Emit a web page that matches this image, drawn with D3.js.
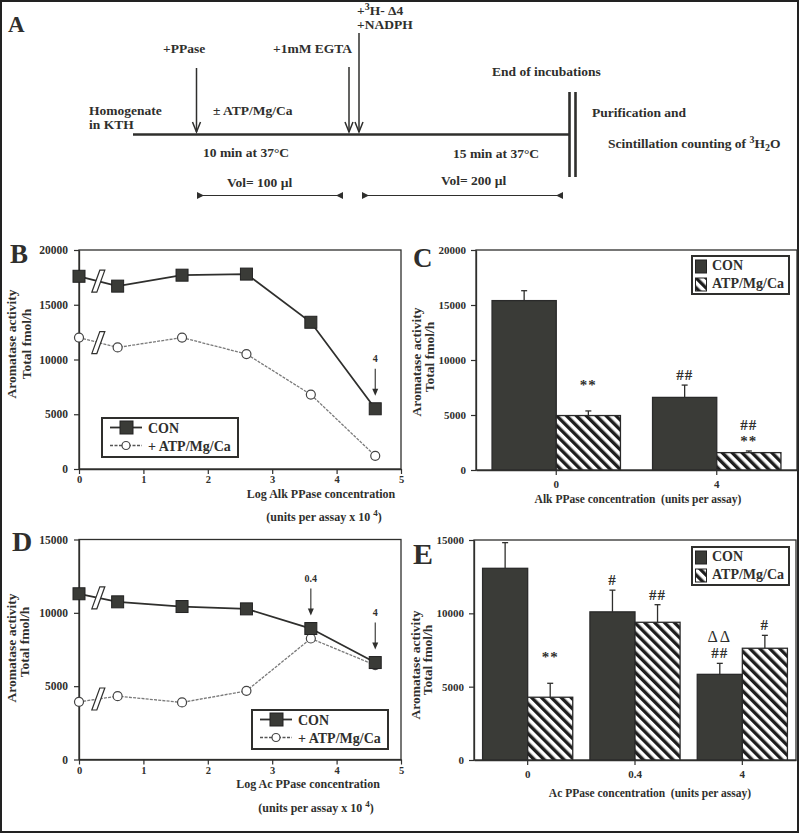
<!DOCTYPE html>
<html><head><meta charset="utf-8">
<script src="https://cdn.jsdelivr.net/npm/d3@7"></script>
<style>
body{margin:0;background:#fff;}
svg{display:block;}
</style></head><body>
<svg id="fig" width="800" height="833"></svg>
<script>
// ---------------- data ----------------
const xLog = [0, 0.6, 1.6, 2.6, 3.6, 4.6];
const xTicks = [0, 1, 2, 3, 4, 5];
const breakAt = 0.3;

const bCON = [17600, 16700, 17700, 17800, 13400, 5500];
const bATP = [12000, 11100, 12000, 10500, 6800, 1200];
const bYTicks = [0, 5000, 10000, 15000, 20000];
const bArrows = [{x: 4.6, label: "4"}];

const dCON = [11300, 10750, 10430, 10270, 8930, 6610];
const dATP = [3930, 4320, 3890, 4680, 8250, 6430];
const dYTicks = [0, 5000, 10000, 15000];
const dArrows = [{x: 3.6, label: "0.4"}, {x: 4.6, label: "4"}];

const cCats = ["0", "4"];
const cCON = [15400, 6600];
const cCONerr = [900, 1120];
const cATP = [4950, 1580];
const cATPerr = [420, 150];
const cYTicks = [0, 5000, 10000, 15000, 20000];
const cNotes = [
  {cat: "0", s: "ATP", lines: ["**", ""]},
  {cat: "4", s: "CON", lines: ["##"]},
  {cat: "4", s: "ATP", lines: ["##", "**"]}
];

const eCats = ["0", "0.4", "4"];
const eCON = [13070, 10100, 5840];
const eCONerr = [1750, 1480, 750];
const eATP = [4280, 9390, 7620];
const eATPerr = [950, 1200, 880];
const eYTicks = [0, 5000, 10000, 15000];
const eNotes = [
  {cat: "0", s: "ATP", lines: ["**", ""]},
  {cat: "0.4", s: "CON", lines: ["#"]},
  {cat: "0.4", s: "ATP", lines: ["##"]},
  {cat: "4", s: "CON", lines: ["ΔΔ", "##"]},
  {cat: "4", s: "ATP", lines: ["#"]}
];

// ---------------- drawing ----------------
const svg = d3.select("#fig");
const INK = "#2f2f2d";
const BAR = "#3a3b37";
const F = '"Liberation Serif","Times New Roman",serif';

const defs = svg.append("defs");
const pat = defs.append("pattern").attr("id", "hatch").attr("patternUnits", "userSpaceOnUse")
  .attr("width", 7).attr("height", 7).attr("patternTransform", "rotate(-45)");
pat.append("rect").attr("width", 7).attr("height", 7).attr("fill", "#fff");
pat.append("rect").attr("width", 3.4).attr("height", 7).attr("fill", "#1e1e1e");

svg.append("rect").attr("width", 800).attr("height", 833).attr("fill", "#fff");
svg.append("rect").attr("x", 1).attr("y", 1).attr("width", 797).attr("height", 831)
  .attr("fill", "none").attr("stroke", "#222").attr("stroke-width", 2);

function T(g, x, y, s, size, anchor) {
  return g.append("text").attr("x", x).attr("y", y).text(s)
    .attr("font-family", F).attr("font-weight", "bold").attr("font-size", size)
    .attr("fill", INK).attr("text-anchor", anchor || "start");
}

// ---------- Panel A ----------
const A = svg.append("g");
T(A, 8, 32, "A", 23);
A.append("line").attr("x1", 133).attr("x2", 569).attr("y1", 134.5).attr("y2", 134.5)
  .attr("stroke", INK).attr("stroke-width", 2.5);
[569.5, 575.5].forEach(x => A.append("line").attr("x1", x).attr("x2", x).attr("y1", 92).attr("y2", 177)
  .attr("stroke", INK).attr("stroke-width", 2.6));
function downArrow(x, y1, y2) {
  A.append("line").attr("x1", x).attr("x2", x).attr("y1", y1).attr("y2", y2 - 1)
    .attr("stroke", INK).attr("stroke-width", 1.5);
  A.append("path").attr("d", `M${x - 4},${y2 - 11} L${x},${y2 - 1} L${x + 4},${y2 - 11}`)
    .attr("fill", "none").attr("stroke", INK).attr("stroke-width", 1.5);
}
downArrow(196.5, 68, 133);
downArrow(349, 67, 133);
downArrow(359, 33, 133);
function span(x1, x2, y) {
  A.append("line").attr("x1", x1).attr("x2", x2).attr("y1", y).attr("y2", y).attr("stroke", INK).attr("stroke-width", 1.2);
  A.append("path").attr("d", `M${x1},${y - 3.5} L${x1},${y + 3.5} L${x1 + 7},${y} Z`).attr("fill", INK);
  A.append("path").attr("d", `M${x2},${y - 3.5} L${x2},${y + 3.5} L${x2 - 7},${y} Z`).attr("fill", INK);
}
span(197, 343, 195.5);
span(362, 563, 195.5);
const AS = 13.5;
T(A, 163, 53, "+PPase", AS);
T(A, 273, 53, "+1mM EGTA", AS);
{
  const t = T(A, 357, 15, "", AS);
  t.append("tspan").text("+");
  t.append("tspan").text("3").attr("font-size", 10).attr("dy", -5);
  t.append("tspan").text("H- Δ4").attr("dy", 5);
}
T(A, 357, 29, "+NADPH", AS);
T(A, 89, 115, "Homogenate", AS);
T(A, 89, 129, "in KTH", AS);
T(A, 213, 115, "± ATP/Mg/Ca", AS);
T(A, 203, 157, "10 min at 37°C", AS);
T(A, 227, 187, "Vol= 100 µl", AS);
T(A, 492, 76, "End of incubations", AS);
T(A, 592, 117, "Purification and", AS);
{
  const t = T(A, 608, 148, "", AS);
  t.append("tspan").text("Scintillation counting of ");
  t.append("tspan").text("3").attr("font-size", 10).attr("dy", -5);
  t.append("tspan").text("H").attr("dy", 5);
  t.append("tspan").text("2").attr("font-size", 10).attr("dy", 3);
  t.append("tspan").text("O").attr("dy", -3);
}
T(A, 453, 158, "15 min at 37°C", AS);
T(A, 441, 185, "Vol= 200 µl", AS);

// ---------- helpers ----------
function styleAxis(a, size) {
  a.select("path.domain").attr("stroke", INK).attr("stroke-width", 1.3);
  a.selectAll(".tick line").attr("stroke", INK).attr("stroke-width", 1.2);
  a.selectAll(".tick text").attr("font-family", F).attr("font-weight", "bold")
    .attr("font-size", size || 11).attr("fill", INK);
}
function yTitle(g, x1, y1, x2, y2) {
  T(g, 0, 0, "Aromatase activity", 13.5, "middle").attr("transform", `translate(${x1},${y1}) rotate(-90)`);
  T(g, 0, 0, "Total fmol/h", 13.5, "middle").attr("transform", `translate(${x2},${y2}) rotate(-90)`);
}
function supTitle(g, x, y, main, size) {
  const t = T(g, x, y, "", size, "middle");
  t.append("tspan").text(main);
  t.append("tspan").text("4").attr("font-size", 9).attr("dy", -5);
  t.append("tspan").text(")").attr("dy", 5);
}

// ---------- line panels ----------
function lineChart(o) {
  const g = svg.append("g");
  const x = d3.scaleLinear().domain([0, 5]).range([79, 401]);
  const y = d3.scaleLinear().domain([0, o.ymax]).range([o.bottom, o.top]);
  g.append("rect").attr("x", x(0)).attr("y", y(o.ymax)).attr("width", x(5) - x(0))
    .attr("height", y(0) - y(o.ymax)).attr("fill", "none").attr("stroke", INK).attr("stroke-width", 1.3);
  const ya = g.append("g").attr("transform", `translate(${x(0)},0)`)
    .call(d3.axisLeft(y).tickValues(o.yticks).tickSize(5).tickPadding(6).tickSizeOuter(0).tickFormat(d3.format("d")));
  const xa = g.append("g").attr("transform", `translate(0,${y(0)})`)
    .call(d3.axisBottom(x).tickValues(xTicks).tickSize(5).tickPadding(2).tickSizeOuter(0).tickFormat(d3.format("d")));
  styleAxis(ya, 11.5); styleAxis(xa, 10.5);

  const pts = vals => xLog.map((v, i) => [x(v), y(vals[i])]);
  const line = d3.line();
  g.append("path").attr("d", line(pts(o.atp))).attr("fill", "none")
    .attr("stroke", "#7a7a7a").attr("stroke-width", 1.3).attr("stroke-dasharray", "3,1.2");
  g.append("path").attr("d", line(pts(o.con))).attr("fill", "none")
    .attr("stroke", INK).attr("stroke-width", 1.8);
  // axis breaks
  [o.atp, o.con].forEach(vals => {
    const t = (breakAt - xLog[0]) / (xLog[1] - xLog[0]);
    const by = y(vals[0]) + (y(vals[1]) - y(vals[0])) * t;
    const bx = x(breakAt);
    g.append("path").attr("d", `M${bx - 6.5},${by + 11} L${bx - 1.5},${by + 11} L${bx + 6.5},${by - 11} L${bx + 1.5},${by - 11} Z`)
      .attr("fill", "#fff").attr("stroke", INK).attr("stroke-width", 1.2);
  });
  g.selectAll("circle.atp").data(o.atp).join("circle").attr("class", "atp")
    .attr("cx", (d, i) => x(xLog[i])).attr("cy", d => y(d)).attr("r", 4.5)
    .attr("fill", "#fff").attr("stroke", "#444").attr("stroke-width", 1.2);
  g.selectAll("rect.con").data(o.con).join("rect").attr("class", "con")
    .attr("x", (d, i) => x(xLog[i]) - 6).attr("y", d => y(d) - 6).attr("width", 12).attr("height", 12)
    .attr("fill", BAR).attr("stroke", "#222").attr("stroke-width", 1);
  // arrows
  o.arrows.forEach(a => {
    const i = xLog.indexOf(a.x);
    const ax = x(a.x), tip = y(o.con[i]) - 13, top = tip - 27;
    g.append("line").attr("x1", ax).attr("x2", ax).attr("y1", top).attr("y2", tip - 5)
      .attr("stroke", INK).attr("stroke-width", 1.1);
    g.append("path").attr("d", `M${ax - 3},${tip - 7} L${ax + 3},${tip - 7} L${ax},${tip} Z`).attr("fill", INK);
    T(g, ax, top - 7, a.label, 10, "middle");
  });
  // legend
  const L = o.legend;
  g.append("rect").attr("x", L.x).attr("y", L.y).attr("width", 136).attr("height", 39)
    .attr("fill", "#fff").attr("stroke", INK).attr("stroke-width", 2);
  const r1 = L.y + 9.5, r2 = L.y + 27.5;
  g.append("line").attr("x1", L.x + 8).attr("x2", L.x + 40).attr("y1", r1).attr("y2", r1).attr("stroke", INK).attr("stroke-width", 1.8);
  g.append("rect").attr("x", L.x + 18).attr("y", r1 - 6.5).attr("width", 13).attr("height", 13).attr("fill", BAR).attr("stroke", "#222");
  g.append("line").attr("x1", L.x + 8).attr("x2", L.x + 40).attr("y1", r2).attr("y2", r2).attr("stroke", "#555").attr("stroke-width", 1.3).attr("stroke-dasharray", "3,1.5");
  g.append("circle").attr("cx", L.x + 24).attr("cy", r2).attr("r", 4).attr("fill", "#fff").attr("stroke", "#444").attr("stroke-width", 1.2);
  T(g, L.x + 46, r1 + 5, "CON", 14);
  T(g, L.x + 46, r2 + 5, "+ ATP/Mg/Ca", 14);
  return g;
}

const gB = lineChart({top: 250, bottom: 469, ymax: 20000, yticks: bYTicks, con: bCON, atp: bATP, arrows: bArrows, legend: {x: 102, y: 418}});
T(gB, 10, 263, "B", 27);
yTitle(gB, 16, 344, 30.5, 344);
T(gB, 321, 498, "Log Alk PPase concentration", 12, "middle");
supTitle(gB, 324, 521, "(units per assay x 10 ", 12);

const gD = lineChart({top: 539.5, bottom: 759.5, ymax: 15000, yticks: dYTicks, con: dCON, atp: dATP, arrows: dArrows, legend: {x: 252, y: 710}});
T(gD, 12, 551, "D", 28);
yTitle(gD, 16, 648, 28.5, 642);
T(gD, 308, 788, "Log Ac PPase concentration", 12, "middle");
supTitle(gD, 316, 812, "(units per assay x 10 ", 12);

// ---------- bar panels ----------
function barChart(o) {
  const g = svg.append("g");
  const x = d3.scaleBand().domain(o.cats).range([o.left, o.right]).paddingInner(o.pi).paddingOuter(o.po);
  const series = [
    {key: "CON", vals: o.con, err: o.conErr, fill: BAR},
    {key: "ATP", vals: o.atp, err: o.atpErr, fill: "url(#hatch)"}
  ];
  const xs = d3.scaleBand().domain(series.map(s => s.key)).range([0, x.bandwidth()]);
  const y = d3.scaleLinear().domain([0, o.ymax]).range([o.bottom, o.top]);
  g.append("rect").attr("x", o.left).attr("y", o.top).attr("width", o.right - o.left)
    .attr("height", o.bottom - o.top).attr("fill", "none").attr("stroke", INK).attr("stroke-width", 1.3);
  series.forEach(s => {
    const gs = g.append("g");
    gs.selectAll("line.err").data(o.cats).join("line").attr("class", "err")
      .attr("x1", (c) => x(c) + xs(s.key) + xs.bandwidth() / 2).attr("x2", (c) => x(c) + xs(s.key) + xs.bandwidth() / 2)
      .attr("y1", (c, i) => y(s.vals[i])).attr("y2", (c, i) => y(s.vals[i] + s.err[i]))
      .attr("stroke", INK).attr("stroke-width", 1.3);
    gs.selectAll("line.cap").data(o.cats).join("line").attr("class", "cap")
      .attr("x1", (c) => x(c) + xs(s.key) + xs.bandwidth() / 2 - 3).attr("x2", (c) => x(c) + xs(s.key) + xs.bandwidth() / 2 + 3)
      .attr("y1", (c, i) => y(s.vals[i] + s.err[i])).attr("y2", (c, i) => y(s.vals[i] + s.err[i]))
      .attr("stroke", INK).attr("stroke-width", 1.3);
    gs.selectAll("rect").data(o.cats).join("rect")
      .attr("x", c => x(c) + xs(s.key)).attr("width", xs.bandwidth())
      .attr("y", (c, i) => y(s.vals[i])).attr("height", (c, i) => y(0) - y(s.vals[i]))
      .attr("fill", s.fill).attr("stroke", "#2a2a2a").attr("stroke-width", 1.3);
  });
  const ya = g.append("g").attr("transform", `translate(${o.left},0)`)
    .call(d3.axisLeft(y).tickValues(o.yticks).tickSize(5).tickPadding(5).tickSizeOuter(0).tickFormat(d3.format("d")));
  const xa = g.append("g").attr("transform", `translate(0,${o.bottom})`)
    .call(d3.axisBottom(x).tickSize(5).tickPadding(5).tickSizeOuter(0));
  styleAxis(ya, 11); styleAxis(xa, 11);
  // notes
  o.notes.forEach(n => {
    const si = series.findIndex(s => s.key === n.s);
    const s = series[si];
    const ci = o.cats.indexOf(n.cat);
    const cx = x(n.cat) + xs(s.key) + xs.bandwidth() / 2;
    let by = y(s.vals[ci] + s.err[ci]) - 5;
    n.lines.slice().reverse().forEach(line => {
      if (line) {
        const t = T(g, cx, by, line, line.includes("Δ") ? 16 : 15, "middle").attr("letter-spacing", 1);
        if (line.includes("Δ")) t.attr("font-weight", "normal").attr("letter-spacing", 2);
      }
      by -= 16;
    });
  });
  // legend
  const L = o.legend;
  g.append("rect").attr("x", L.x).attr("y", L.y).attr("width", 97).attr("height", 38)
    .attr("fill", "#fff").attr("stroke", INK).attr("stroke-width", 2);
  g.append("rect").attr("x", L.x + 3.5).attr("y", L.y + 4).attr("width", 11).attr("height", 13).attr("fill", BAR).attr("stroke", "#222");
  g.append("rect").attr("x", L.x + 3.5).attr("y", L.y + 22).attr("width", 11).attr("height", 13).attr("fill", "url(#hatch)").attr("stroke", "#222");
  T(g, L.x + 20, L.y + 14, "CON", 14);
  T(g, L.x + 20, L.y + 32, "ATP/Mg/Ca", 14);
  return g;
}

const gC = barChart({left: 476, right: 797, top: 250, bottom: 470, ymax: 20000, yticks: cYTicks, cats: cCats,
  con: cCON, conErr: cCONerr, atp: cATP, atpErr: cATPerr, notes: cNotes, pi: 0.2, po: 0.1, legend: {x: 692, y: 256}});
T(gC, 413, 267, "C", 27);
yTitle(gC, 421, 362, 433.5, 357);
T(gC, 638, 503, "Alk PPase concentration\u00a0\u00a0(units per assay)", 11.5, "middle");

const gE = barChart({left: 474, right: 796, top: 540, bottom: 760, ymax: 15000, yticks: eYTicks, cats: eCats,
  con: eCON, conErr: eCONerr, atp: eATP, atpErr: eATPerr, notes: eNotes, pi: 0.16, po: 0.08, legend: {x: 692, y: 547}});
T(gE, 413, 564, "E", 30);
yTitle(gE, 420, 665, 432, 660);
T(gE, 650, 797, "Ac PPase concentration\u00a0\u00a0(units per assay)", 11.5, "middle");
</script></body></html>
